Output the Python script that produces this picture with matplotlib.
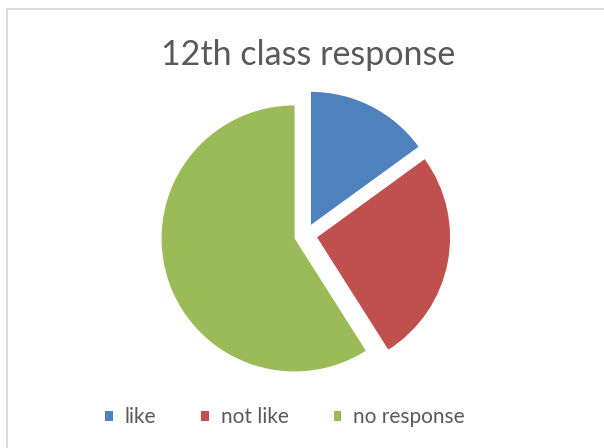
import matplotlib
matplotlib.use("Agg")
import matplotlib.pyplot as plt
from matplotlib.patches import Rectangle, Patch

categories = ["like", "not like", "no response"]
values = [15, 26, 59]
colors = ["#4F81BD", "#C0504D", "#9BBB59"]
title = "12th class response"

W, H, DPI = 604, 448, 100
fig = plt.figure(figsize=(W / DPI, H / DPI), dpi=DPI)
fig.patch.set_facecolor("white")

# chart border
fig.patches.append(Rectangle((6.5 / W, -0.1), 1.2, (H - 9.5) / H + 0.1,
                             transform=fig.transFigure, fill=False,
                             edgecolor="#D9D9D9", linewidth=1.3))

cx, cy, r = 305.7, 235.2, 133.0
lim = 1.25
size = 2 * lim * r
ax = fig.add_axes([(cx - size / 2) / W, (H - cy - size / 2) / H, size / W, size / H])
ax.pie(values, colors=colors, startangle=90, counterclock=False,
       explode=[0.087] * len(values), radius=1.0,
       wedgeprops=dict(linewidth=0))
ax.set_xlim(-lim, lim)
ax.set_ylim(-lim, lim)
ax.set_aspect("equal")
ax.axis("off")

fig.text(308.5 / W, 1 - 55 / H, title, ha="center", va="center",
         fontsize=24.5, color="#595959", family=["Lato", "DejaVu Sans"])

fs = 15
fpx = fs * DPI / 72
handles = [Patch(facecolor=c, edgecolor="none") for c in colors]
leg = fig.legend(handles, categories, loc="center", bbox_to_anchor=(285 / W, 1 - 417 / H),
                 ncol=3, frameon=False, handlelength=7.5 / fpx, handleheight=7.5 / fpx,
                 handletextpad=12 / fpx, columnspacing=45 / fpx, borderpad=0,
                 prop={"family": ["Lato", "DejaVu Sans"], "size": fs})
for t in leg.get_texts():
    t.set_color("#595959")

fig.savefig("out.png", dpi=DPI, facecolor="white")
